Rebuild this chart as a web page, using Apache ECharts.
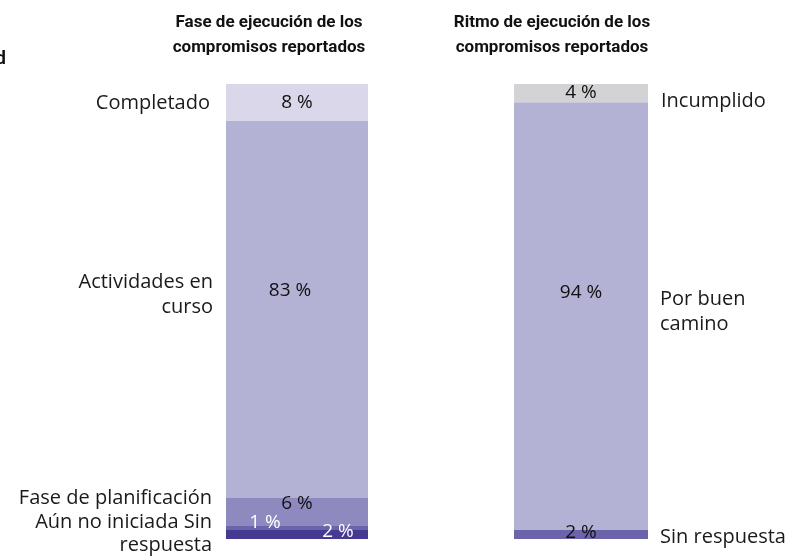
<!DOCTYPE html>
<html>
<head>
<meta charset="utf-8">
<script src="https://cdn.jsdelivr.net/npm/echarts@6/dist/echarts.min.js"></script>
<style>
  html, body { margin: 0; padding: 0; background: #fff; }
  #chart { width: 790px; height: 558px; }
</style>
</head>
<body>
<div id="chart"></div>
<script>
// bottom -> top
const faseNames = ['Sin respuesta', 'Aún no iniciada', 'Fase de planificación', 'Actividades en curso', 'Completado']
const faseValues = [2, 1, 6, 83, 8]
const ritmoNames = ['Sin respuesta', 'Por buen camino', 'Incumplido']
const ritmoValues = [2, 94, 4]
const titles = ['Fase de ejecución de los\ncompromisos reportados', 'Ritmo de ejecución de los\ncompromisos reportados']

const faseColors = ['#443a91', '#6a64aa', '#8e8abf', '#b3b1d4', '#dad7ea']
const faseLabel = [
  { color: '#fff', offset: [41, -3] },
  { color: '#fff', offset: [-32, -5] },
  { color: '#111', offset: [0, -8] },
  { color: '#111', offset: [-7, -19] },
  { color: '#111', offset: [0, 0] },
]
const ritmoColors = ['#6b64ab', '#b3b1d4', '#d3d3d5']
const ritmoLabel = [
  { color: '#111', offset: [0, -2] },
  { color: '#111', offset: [0, -23] },
  { color: '#111', offset: [0, -1] },
]

const FONT = '"Open Sans", sans-serif'
const TITLE_FONT = 'Roboto, sans-serif'
const chart = echarts.init(document.getElementById('chart'))

function barSeries(names, values, colors, labels, idx) {
  return names.map((n, i) => ({
    name: n,
    type: 'bar',
    stack: 's' + idx,
    xAxisIndex: idx,
    yAxisIndex: idx,
    barWidth: '100%',
    data: [values[i]],
    itemStyle: { color: colors[i] },
    label: {
      show: true,
      position: 'inside',
      formatter: (p) => p.value + ' %',
      fontFamily: FONT,
      fontSize: 19,
      color: labels[i].color,
      offset: labels[i].offset,
    },
    emphasis: { disabled: true },
  }))
}

const sideText = (text, x, y, align) => ({
  type: 'text',
  x, y,
  style: { text, fontFamily: FONT, fontSize: 20, fill: '#1a1a1a', align, verticalAlign: 'middle', lineHeight: 25 },
})

const titleText = (text, x) => ({
  type: 'text',
  x, y: 35,
  style: { text, fontFamily: TITLE_FONT, fontSize: 17, fontWeight: 'bold', fill: '#111', align: 'center', verticalAlign: 'middle', lineHeight: 25 },
})

chart.setOption({
  animation: false,
  grid: [
    { left: 226, width: 142, top: 84, height: 455 },
    { left: 514, width: 134, top: 84, height: 455 },
  ],
  xAxis: [
    { type: 'category', gridIndex: 0, data: ['fase'], show: false },
    { type: 'category', gridIndex: 1, data: ['ritmo'], show: false },
  ],
  yAxis: [
    { type: 'value', gridIndex: 0, min: 0, max: 100, show: false },
    { type: 'value', gridIndex: 1, min: 0, max: 100, show: false },
  ],
  series: [
    ...barSeries(faseNames, faseValues, faseColors, faseLabel, 0),
    ...barSeries(ritmoNames, ritmoValues, ritmoColors, ritmoLabel, 1),
  ],
  graphic: [
    { type: 'text', x: 6, y: 59, style: { text: 'd', fontFamily: TITLE_FONT, fontSize: 18, fontWeight: 'bold', fill: '#111', align: 'right', verticalAlign: 'middle' } },
    titleText(titles[0], 269),
    titleText(titles[1], 552),
    sideText(faseNames[4], 210, 103, 'right'),
    sideText('Actividades en\ncurso', 213, 295, 'right'),
    sideText(faseNames[2], 212, 498, 'right'),
    sideText('Aún no iniciada Sin', 212, 522, 'right'),
    sideText('respuesta', 212, 545, 'right'),
    sideText(ritmoNames[2], 661, 101, 'left'),
    sideText('Por buen\ncamino', 660, 312, 'left'),
    sideText(ritmoNames[0], 660, 537, 'left'),
  ],
})
</script>
</body>
</html>
